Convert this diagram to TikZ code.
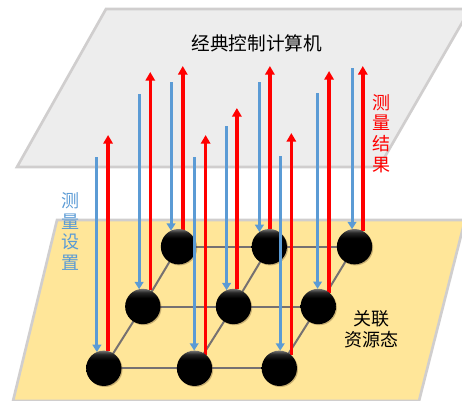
\documentclass[tikz,border=0pt]{standalone}
\usepackage{fontspec}
\newfontfamily\cjk{Noto Sans CJK SC}
\usetikzlibrary{arrows.meta,shadows}
\definecolor{mblue}{HTML}{5B9BD5}
\definecolor{mred}{HTML}{FF0000}
\definecolor{planey}{HTML}{FFE699}
\definecolor{planeg}{HTML}{EDEDED}
\definecolor{edgeg}{HTML}{D0CECE}
\definecolor{gridg}{HTML}{767171}
\pgfdeclareverticalshading{ballshade}{100bp}{color(0bp)=(black); color(25bp)=(black); color(62bp)=(black); color(70bp)=(black!85); color(75bp)=(black!55); color(100bp)=(black!55)}
\pgfdeclarelayer{back}
\pgfdeclarelayer{ra}
\pgfdeclarelayer{ba}
\pgfdeclarelayer{rb}
\pgfdeclarelayer{bb}
\pgfdeclarelayer{rc}
\pgfsetlayers{back,ra,ba,rb,bb,rc,main}
\tikzset{
  plane/.style={draw=edgeg, line width=2pt, line join=miter},
  gridline/.style={draw=gridg, line width=1.5pt},
  ball/.style={circle, inner sep=0pt, outer sep=0pt, minimum size=26.5pt,
    shading=ballshade,
    drop shadow={shadow xshift=0.8pt, shadow yshift=-0.8pt, opacity=0.3, fill=black!60!brown}},
  setarrow/.style={draw=mblue, line width=2.2pt, -{Triangle[width=6.5pt,length=5.5pt]}},
  resarrow/.style={draw=mred, line width=2.6pt, -{Triangle[width=7pt,length=6.5pt]}},
  lbl/.style={font=\cjk\fontsize{13.5pt}{15.5pt}\selectfont, align=center, inner sep=0pt}
}
\begin{document}
\begin{tikzpicture}[x=0.75pt,y=-0.75pt]
\useasboundingbox (0,0) rectangle (462,401);
\clip (0,0) rectangle (462,401);
\begin{pgfonlayer}{back}
  \path[plane, fill=planeg] (106,9) -- (470,9) -- (379,167) -- (17,167) -- cycle;
  \path[plane, fill=planey] (57,220) -- (465,220) -- (419,401) -- (13,401) -- cycle;
\end{pgfonlayer}
% balls
\begin{pgfonlayer}{ba}
  \node[ball] (b1) at (178.5,246.7) {};
  \node[ball] (b2) at (269.3,246.7) {};
  \node[ball] (b3) at (354.5,246.7) {};
\end{pgfonlayer}
\begin{pgfonlayer}{bb}
  \node[ball] (m1) at (142.8,306.5) {};
  \node[ball] (m2) at (233.5,306.5) {};
  \node[ball] (m3) at (318.2,306.5) {};
\end{pgfonlayer}
\node[ball] (f1) at (103.8,368.3) {};
\node[ball] (f2) at (194.5,368.3) {};
\node[ball] (f3) at (279.3,368.3) {};
% grid
\begin{pgfonlayer}{back}
  \draw[gridline] (b1) -- (b3);
  \draw[gridline] (m1) -- (m3);
  \draw[gridline] (f1) -- (f3);
  \draw[gridline] (f1.center) -- (m1.center) -- (b1.center);
  \draw[gridline] (f2.center) -- (m2.center) -- (b2.center);
  \draw[gridline] (f3.center) -- (m3.center) -- (b3.center);
\end{pgfonlayer}
% back row arrows
\begin{pgfonlayer}{ra}
  \draw[setarrow] (b1.115 |- 0,82) -- (b1.115);
  \draw[resarrow] (b1.76) -- (b1.76 |- 0,66);
  \draw[setarrow] (b2.124 |- 0,82) -- (b2.124);
  \draw[resarrow] (b2.88) -- (b2.88 |- 0,66);
  \draw[setarrow] (b3.98 |- 0,68) -- (b3.98);
  \draw[resarrow] (b3.62) -- (b3.62 |- 0,66);
\end{pgfonlayer}
% middle row arrows
\begin{pgfonlayer}{rb}
  \draw[setarrow] (m1.102 |- 0,94) -- (m1.102);
  \draw[resarrow] (m1.65) -- (m1.65 |- 0,72);
  \draw[setarrow] (m2.113 |- 0,126) -- (m2.113);
  \draw[resarrow] (m2.79) -- (m2.79 |- 0,108);
  \draw[setarrow] (m3.92 |- 0,93) -- (m3.92);
  \draw[resarrow] (m3.52) -- (m3.52 |- 0,71);
\end{pgfonlayer}
% front row arrows
\begin{pgfonlayer}{rc}
  \draw[setarrow] (f1.113 |- 0,157) -- (f1.113);
  \draw[resarrow] (f1.76) -- (f1.76 |- 0,135);
  \draw[setarrow] (f2.91 |- 0,157) -- (f2.91);
  \draw[resarrow] (f2.51) -- (f2.51 |- 0,135);
  \draw[setarrow] (f3.87 |- 0,156) -- (f3.87);
  \draw[resarrow] (f3.47) -- (f3.47 |- 0,133);
\end{pgfonlayer}
% labels
\node[lbl, font=\cjk\fontsize{14pt}{16pt}\selectfont] (cc) at (257,43) {经典控制计算机};
\node[lbl, text=mred] (mr) at (381.5,133.5) {测\\量\\结\\果};
\node[lbl, text=mblue] (ms) at (70,231.5) {测\\量\\设\\置};
\node[lbl] (rs) at (371.5,329) {关联\\资源态};
\end{tikzpicture}
\end{document}
